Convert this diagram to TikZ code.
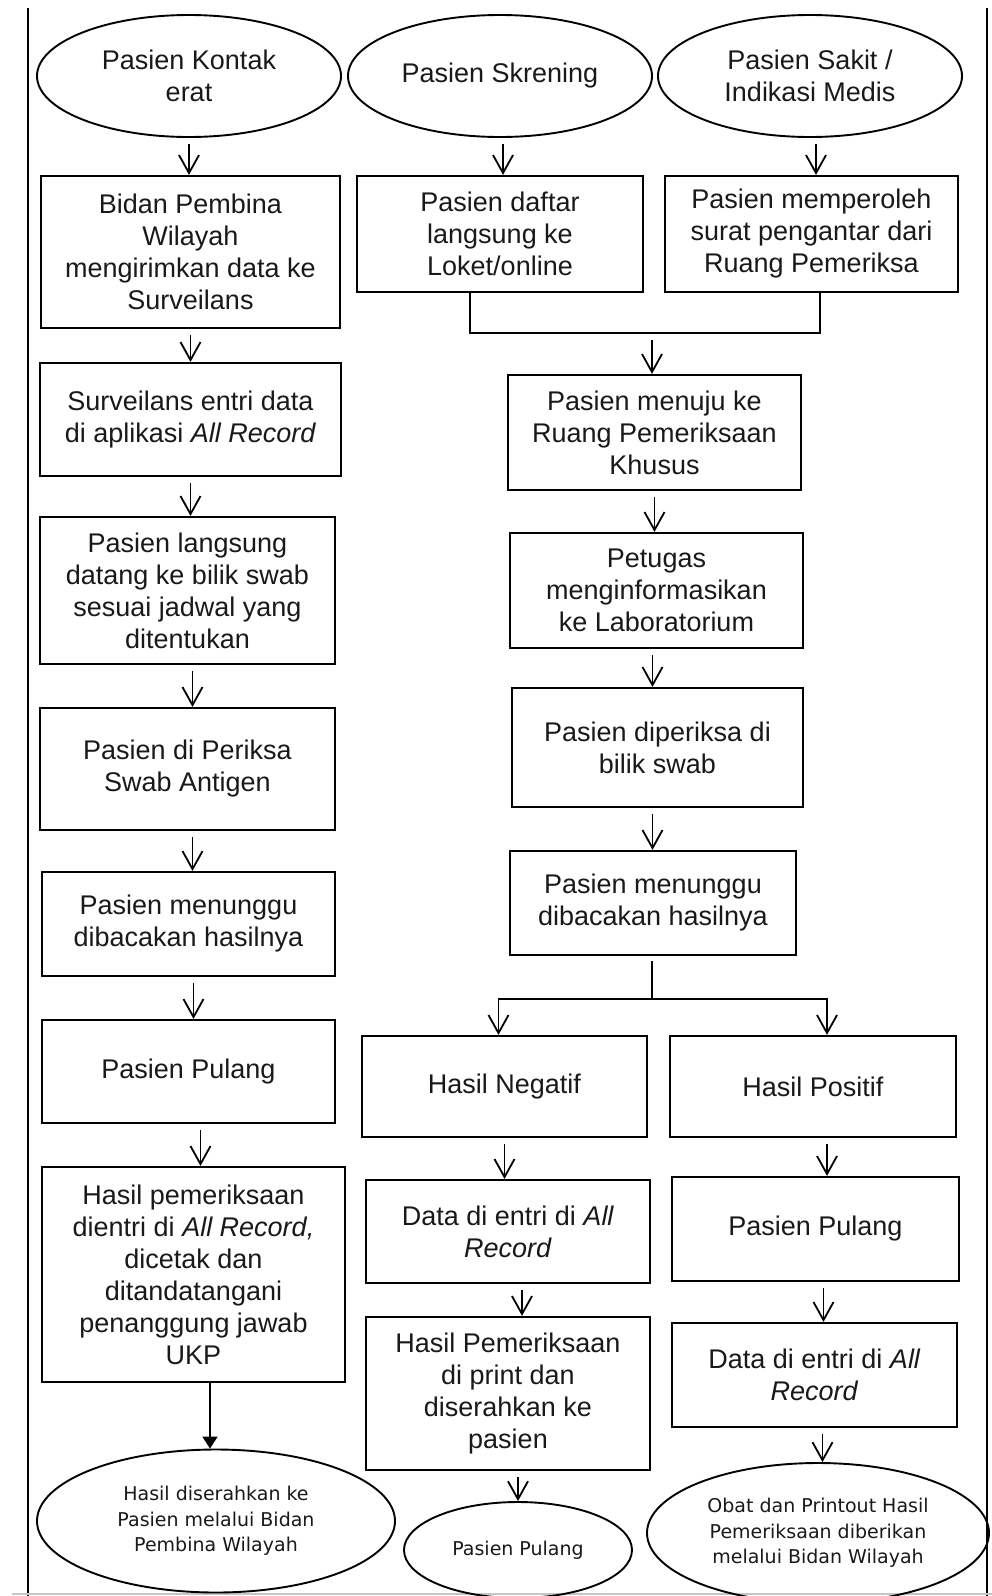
\documentclass[tikz,border=0pt]{standalone}
\usepackage{fontspec}
\setmainfont{Liberation Sans}
\newfontfamily\kecil{DejaVu Sans}
\usetikzlibrary{shapes.geometric,arrows.meta}
\begin{document}
\begin{tikzpicture}[x=1pt,y=-1pt,
                every node/.style={font=\fontsize{27}{32}\selectfont, text=black!90, align=center, inner sep=0pt},
                proses/.style={draw, line width=2.2pt, rectangle},
                awal/.style={draw, line width=1.9pt, ellipse, minimum width=304pt, minimum height=122pt},
                akhir/.style={draw, line width=1.9pt, ellipse, font=\kecil\fontsize{19}{25.5}\selectfont},
                panah/.style={-{Straight Barb[length=18pt,width=20pt]}, line width=1.8pt, shorten <=6pt},
                garis/.style={line width=2pt}]
                \useasboundingbox (0,0) rectangle (992,1596);
                \draw[line width=2.2pt] (28,8) -- (28,1596);
                \draw[line width=2.2pt] (987,8) -- (987,1596);
                \draw[line width=2pt, gray!45] (12,1594) -- (992,1594);

                \node[awal] (e1) at (189,76) {Pasien Kontak\\erat};
                \node[awal] (e2) at (500,76) {Pasien Skrening};
                \node[awal] (e3) at (810,76) {Pasien Sakit /\\Indikasi Medis};

                \node[proses, minimum width=299pt, minimum height=152pt] (b1) at (190.5,252) {Bidan Pembina\\Wilayah\\mengirimkan data ke\\Surveilans};
                \node[proses, minimum width=301pt, minimum height=113pt] (b2) at (190.5,419.5) {Surveilans entri data\\di aplikasi \textit{All Record}};
                \node[proses, minimum width=295pt, minimum height=147pt] (b3) at (187.5,590.5) {Pasien langsung\\datang ke bilik swab\\sesuai jadwal yang\\ditentukan};
                \node[proses, minimum width=295pt, minimum height=122pt] (b4) at (187.5,769) {Pasien di Periksa\\Swab Antigen};
                \node[proses, minimum width=293pt, minimum height=104pt] (b5) at (188.5,924) {Pasien menunggu\\dibacakan hasilnya};
                \node[proses, minimum width=293pt, minimum height=103pt] (b6) at (188.5,1071.5) {Pasien Pulang};
                \node[proses, minimum width=303pt, minimum height=215pt] (b7) at (193.5,1274.5) {Hasil pemeriksaan\\dientri di \textit{All Record,}\\dicetak dan\\ditandatangani\\penanggung jawab\\UKP};
                \node[akhir, minimum width=358pt, minimum height=143pt] (e4) at (216,1521) {Hasil diserahkan ke\\Pasien melalui Bidan\\Pembina Wilayah};

                \node[proses, minimum width=286pt, minimum height=116pt] (m1) at (500,234) {Pasien daftar\\langsung ke\\Loket/online};
                \node[proses, minimum width=293pt, minimum height=116pt] (r1) at (811.5,234) {Pasien memperoleh\\surat pengantar dari\\Ruang Pemeriksa};
                \coordinate (gabung) at (652,333);
                \node[proses, minimum width=293pt, minimum height=115pt] (m2) at (654.5,432.5) {Pasien menuju ke\\Ruang Pemeriksaan\\Khusus};
                \node[proses, minimum width=293pt, minimum height=115pt] (m3) at (656.5,590.5) {Petugas\\menginformasikan\\ke Laboratorium};
                \node[proses, minimum width=291pt, minimum height=119pt] (m4) at (657.5,747.5) {Pasien diperiksa di\\bilik swab};
                \node[proses, minimum width=286pt, minimum height=104pt] (m5) at (653,903) {Pasien menunggu\\dibacakan hasilnya};
                \coordinate (cabang) at (652,999);

                \node[proses, minimum width=285pt, minimum height=101pt] (n1) at (504.5,1086.5) {Hasil Negatif};
                \node[proses, minimum width=284pt, minimum height=103pt] (n2) at (508,1231.5) {Data di entri di \textit{All}\\\textit{Record}};
                \node[proses, minimum width=284pt, minimum height=153pt] (n3) at (508,1393.5) {Hasil Pemeriksaan\\di print dan\\diserahkan ke\\pasien};
                \node[akhir, minimum width=228pt, minimum height=96pt] (e5) at (518,1550) {Pasien Pulang};

                \node[proses, minimum width=286pt, minimum height=101pt] (p1) at (813,1086.5) {Hasil Positif};
                \node[proses, minimum width=287pt, minimum height=104pt] (p2) at (815.5,1229) {Pasien Pulang};
                \node[proses, minimum width=285pt, minimum height=104pt] (p3) at (814.5,1375) {Data di entri di \textit{All}\\\textit{Record}};
                \node[akhir, minimum width=342pt, minimum height=140pt] (e6) at (818,1533) {Obat dan Printout Hasil\\Pemeriksaan diberikan\\melalui Bidan Wilayah};

                \draw[panah] (e1.south) -- (e1.south |- b1.north);
                \draw[panah] (b1.south) -- (b1.south |- b2.north);
                \draw[panah] (b2.south) -- (b2.south |- b3.north);
                \draw[panah] ([xshift=5pt]b3.south) -- ([xshift=5pt]b3.south |- b4.north);
                \draw[panah] ([xshift=5pt]b4.south) -- ([xshift=5pt]b4.south |- b5.north);
                \draw[panah] ([xshift=5pt]b5.south) -- ([xshift=5pt]b5.south |- b6.north);
                \draw[panah] ([xshift=12pt]b6.south) -- ([xshift=12pt]b6.south |- b7.north);
                \draw[-{Triangle[length=12pt,width=15pt]}, line width=1.8pt] ([xshift=-6pt]e4.north |- b7.south) -- ([xshift=-6pt]e4.north);

                \draw[panah] ([xshift=3pt]e2.south) -- ([xshift=3pt]e2.south |- m1.north);
                \draw[panah] ([xshift=6pt]e3.south) -- ([xshift=6pt]e3.south |- r1.north);
                \draw[garis] ([xshift=-30pt]m1.south) |- (gabung) -| ([xshift=8.5pt]r1.south);
                \draw[panah, shorten <=7pt] (gabung) -- (gabung |- m2.north);
                \draw[panah] (m2.south) -- (m2.south |- m3.north);
                \draw[panah] ([xshift=-4pt]m3.south) -- ([xshift=-4pt]m3.south |- m4.north);
                \draw[panah] ([xshift=-5pt]m4.south) -- ([xshift=-5pt]m4.south |- m5.north);
                \draw[garis] ([yshift=-5pt]m5.south -| cabang) -- (cabang);
                \draw[panah, shorten <=0pt] (cabang) -| ([xshift=-6pt]n1.north);
                \draw[panah, shorten <=0pt] (cabang) -| ([xshift=14pt]p1.north);

                \draw[panah] (n1.south) -- (n1.south |- n2.north);
                \draw[panah] ([xshift=14pt]n2.south) -- ([xshift=14pt]n2.south |- n3.north);
                \draw[panah] (e5.north |- n3.south) -- (e5.north);
                \draw[panah] ([xshift=14pt]p1.south) -- ([xshift=14pt]p1.south |- p2.north);
                \draw[panah] ([xshift=8pt]p2.south) -- ([xshift=8pt]p2.south |- p3.north);
                \draw[panah] ([xshift=8pt]p3.south) -- ([xshift=8pt]p3.south |- e6.north);
            \end{tikzpicture}
\end{document}
